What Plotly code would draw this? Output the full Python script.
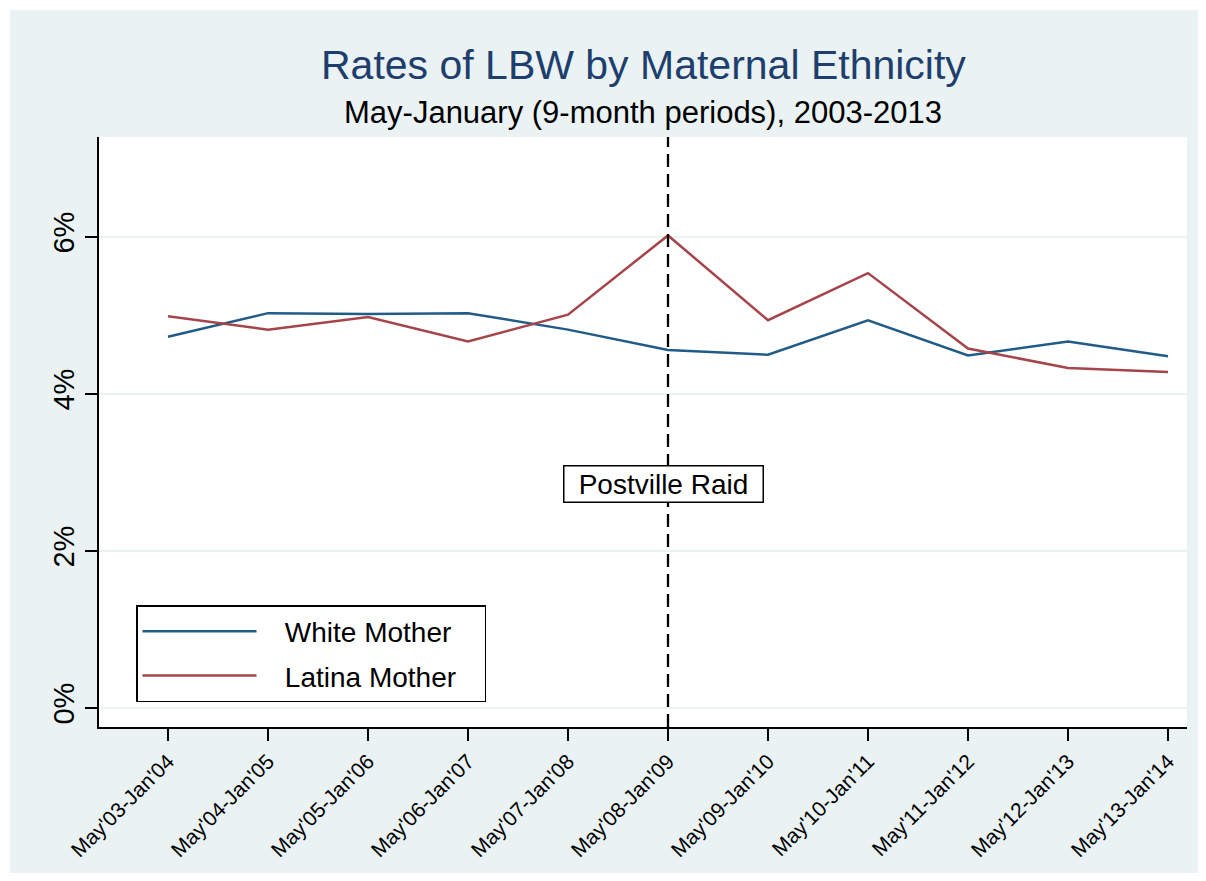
import plotly.graph_objects as go

periods = ["May'03-Jan'04", "May'04-Jan'05", "May'05-Jan'06", "May'06-Jan'07",
           "May'07-Jan'08", "May'08-Jan'09", "May'09-Jan'10", "May'10-Jan'11",
           "May'11-Jan'12", "May'12-Jan'13", "May'13-Jan'14"]
white_mother = [4.73, 5.03, 5.02, 5.03, 4.82, 4.56, 4.50, 4.94, 4.49, 4.67, 4.48]
latina_mother = [4.99, 4.82, 4.98, 4.67, 5.01, 6.02, 4.94, 5.54, 4.58, 4.33, 4.28]
y_ticks = [0, 2, 4, 6]
y_tick_labels = ["0%", "2%", "4%", "6%"]
raid_period = "May'08-Jan'09"
raid_label = "Postville Raid"
raid_label_y = 2.86

FONT = "Liberation Sans, Arial, Helvetica, sans-serif"
BG = "#EAF2F3"
BLUE = "#215b88"
RED = "#a5454b"

OFF = 8  # default page body margin
W, H = 1206 - 2 * OFF, 881 - 2 * OFF
ML, MT = 99 - OFF, 137 - OFF
MR = W - (1187 - OFF)
MB = H - (727 - OFF)
PW = W - ML - MR
PH = H - MT - MB

x = list(range(len(periods)))
raid_x = periods.index(raid_period)

fig = go.Figure()
fig.add_trace(go.Scatter(x=x, y=white_mother, mode="lines", name="White Mother",
                         legendgroup="w", line=dict(color=BLUE, width=2.5)))
fig.add_trace(go.Scatter(x=x, y=latina_mother, mode="lines", name="Latina Mother",
                         legendgroup="l", line=dict(color=RED, width=2.5)))

# dashed raid line
fig.add_shape(type="line", xref="x", yref="paper", x0=raid_x, x1=raid_x, y0=0, y1=1,
              line=dict(color="black", width=2.3, dash="13px,7px"), layer="above")

fig.add_annotation(x=raid_x - 0.05, y=raid_label_y, xref="x", yref="y", text=raid_label,
                   showarrow=False, font=dict(family=FONT, size=28, color="black"),
                   bgcolor="white", bordercolor="black", borderwidth=1.5, borderpad=1,
                   width=196, height=33)

# white outer strips (top & left)
fig.add_shape(type="rect", xref="paper", yref="paper",
              x0=-ML / PW, x1=(10 - OFF - ML) / PW, y0=-MB / PH, y1=1 + MT / PH,
              fillcolor="white", line=dict(width=0), layer="below")
fig.add_shape(type="rect", xref="paper", yref="paper",
              x0=-ML / PW, x1=1 + MR / PW, y0=1 + (MT - (10 - OFF)) / PH, y1=1 + MT / PH,
              fillcolor="white", line=dict(width=0), layer="below")

# titles
fig.add_annotation(text="Rates of LBW by Maternal Ethnicity", xref="paper", yref="paper",
                   x=0.5, y=1 + (137 - 65) / PH, xanchor="center", yanchor="middle",
                   showarrow=False, font=dict(family=FONT, size=41, color="#1e3f6e"))
fig.add_annotation(text="May-January (9-month periods), 2003-2013", xref="paper", yref="paper",
                   x=0.5, y=1 + (137 - 113) / PH, xanchor="center", yanchor="middle",
                   showarrow=False, font=dict(family=FONT, size=31, color="black"))

fig.update_layout(
    width=W, height=H,
    margin=dict(l=ML, r=MR, t=MT, b=MB),
    paper_bgcolor=BG, plot_bgcolor="white",
    font=dict(family=FONT, color="black"),
    showlegend=True,
    legend=dict(x=(136 - 99) / PW, y=1 - (605 - 137) / PH, xanchor="left", yanchor="top",
                bgcolor="white", bordercolor="black", borderwidth=1.5,
                font=dict(family=FONT, size=28, color="black"),
                itemwidth=114, tracegroupgap=5),
    xaxis=dict(range=[-0.69, 10.19], tickvals=x, ticktext=periods, tickangle=-45,
               showgrid=False, zeroline=False, showline=True, linecolor="black", linewidth=1.5,
               ticks="outside", ticklen=12, tickwidth=1.5, tickcolor="black",
               tickfont=dict(family=FONT, size=21, color="black")),
    yaxis=dict(range=[-0.242, 7.274], tickvals=y_ticks, ticktext=y_tick_labels, tickangle=-90,
               showgrid=True, gridcolor=BG, gridwidth=1.5, zeroline=False,
               showline=True, linecolor="black", linewidth=1.5,
               ticks="outside", ticklen=12, tickwidth=1.5, tickcolor="black",
               tickfont=dict(family=FONT, size=29, color="black")),
)

# legend entry names padded: gap between key line and text, and right box padding
fig.for_each_trace(lambda t: t.update(name="\u00a0\u00a0\u00a0" + t.name + "\u00a0" * 3))

fig.write_html("out.html")
